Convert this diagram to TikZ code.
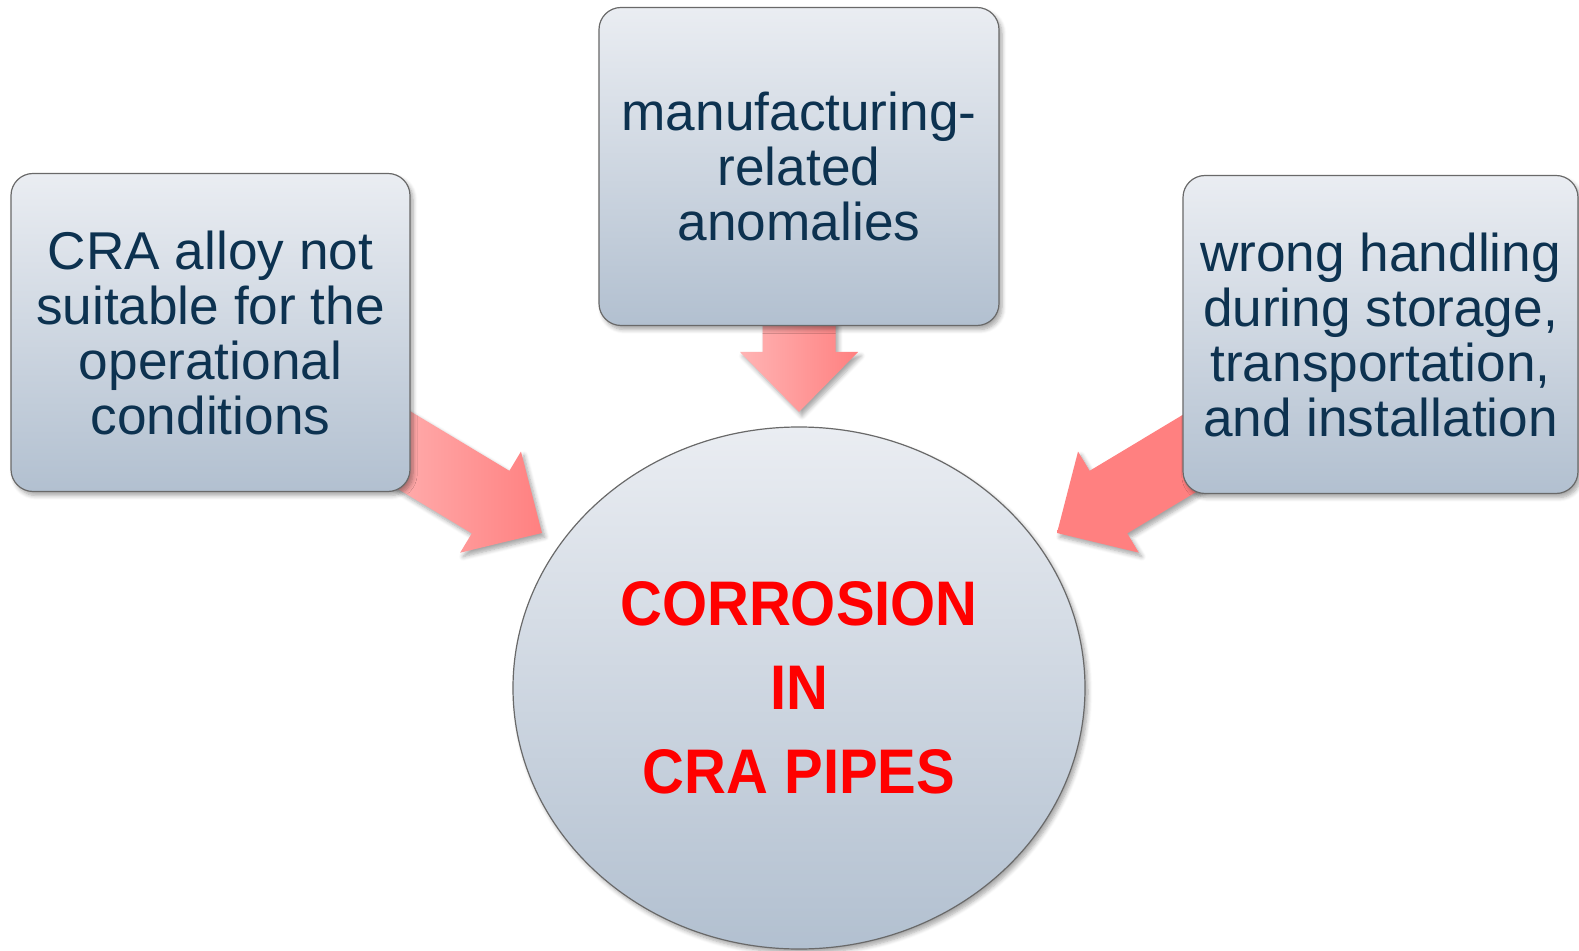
\documentclass[tikz,border=0pt]{standalone}
\usepackage{fontspec}
\setmainfont{Liberation Sans}
\newfontfamily\redfont[FakeStretch=0.92]{Liberation Sans Bold}
\usetikzlibrary{shadows,shadows.blur,shapes.geometric}
\definecolor{boxtop}{RGB}{234,237,242}
\definecolor{boxbot}{RGB}{178,192,208}
\definecolor{boxline}{RGB}{105,105,105}
\definecolor{navy}{RGB}{13,50,80}
\definecolor{pinkL}{RGB}{255,180,180}
\definecolor{pinkD}{RGB}{255,128,128}
\definecolor{alertred}{RGB}{255,0,0}
\tikzset{
  softshadow/.style={blur shadow={shadow xshift=1.5pt, shadow yshift=-2pt, shadow blur steps=6, shadow opacity=35}},
  causebox/.style={rectangle, rounded corners=11pt, draw=boxline, line width=0.6pt,
    top color=boxtop, bottom color=boxbot, minimum height=159pt, inner sep=0pt,
    align=center, text=navy, font=\fontsize{26.6pt}{27.5pt}\selectfont, softshadow},
  corebox/.style={ellipse, draw=boxline, line width=0.6pt, top color=boxtop, bottom color=boxbot,
    minimum width=286pt, minimum height=261pt, inner sep=0pt, align=center, text=alertred,
    font=\redfont\fontsize{31.5pt}{42pt}\selectfont, softshadow},
  arrowfill/.style={left color=pinkL, right color=pinkD, softshadow},
  arrowflat/.style={left color=pinkD, right color=pinkD, softshadow}
}
% #1 tip coordinate name, #2 direction angle, #3 style
\newcommand\blockarrow[3]{%
  \begin{scope}[shift={(#1)}, rotate=#2]
    \shade[#3] (-180,-36.5) -- (-60,-36.5) -- (-60,-59) -- (0,0) -- (-60,59) -- (-60,36.5) -- (-180,36.5) -- cycle;
  \end{scope}}
\begin{document}
\begin{tikzpicture}[x=0.5pt, y=-0.5pt]
\useasboundingbox (0,0) rectangle (1579,951);
\coordinate (tipL) at (542,533);
\coordinate (tipT) at (799,412);
\coordinate (tipR) at (1057,533);
% arrows (drawn first, boxes cover their tails)
\blockarrow{tipL}{-31}{arrowfill}
\blockarrow{tipT}{-90}{arrowfill}
\blockarrow{tipR}{211}{arrowflat}
% cause boxes
\node[causebox, minimum width=199.5pt] (lbox) at (210.5,332.5)
  {CRA alloy not\\suitable for the\\operational\\conditions};
\node[causebox, minimum width=200pt] (tbox) at (799,166.5)
  {manufacturing-\\related\\anomalies};
\node[causebox, minimum width=197.5pt] (rbox) at (1380.5,334.5)
  {wrong handling\\during storage,\\transportation,\\and installation};
% core
\node[corebox] (core) at (799,688) {CORROSION\\IN\\CRA PIPES};
\end{tikzpicture}
\end{document}
